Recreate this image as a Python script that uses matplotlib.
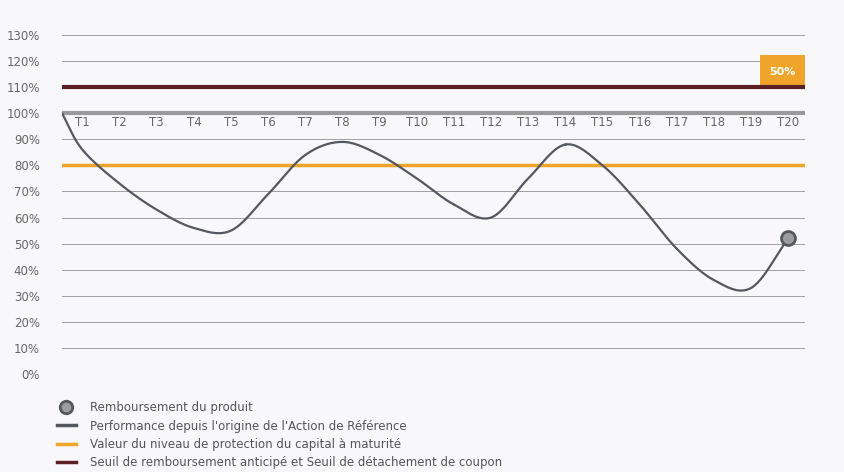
import numpy as np
import matplotlib.pyplot as plt
from matplotlib.lines import Line2D

# données
periodes = ["T%d" % i for i in range(1, 21)]
performance = [86, 73, 63, 56, 55, 69, 84, 89, 84, 75, 65, 60, 75, 88, 80, 65, 48, 36, 33, 52]
depart = 100
niveau_protection = 80
seuil_remboursement = 110
coupon_label = "50%"
yticks = list(range(0, 131, 10))

BG = "#f8f8fa"
GRIS = "#55585f"
ORANGE = "#f0a52a"
BORDEAUX = "#5b1f24"


def catmull_rom(x, y, n=30):
    # courbe lissée passant par les points lus
    x = np.asarray(x, float); y = np.asarray(y, float)
    px = np.concatenate([[2 * x[0] - x[1]], x, [2 * x[-1] - x[-2]]])
    py = np.concatenate([[2 * y[0] - y[1]], y, [2 * y[-1] - y[-2]]])
    xs, ys = [], []
    t = np.linspace(0, 1, n)
    for i in range(1, len(px) - 2):
        for p, out in ((px, xs), (py, ys)):
            p0, p1, p2, p3 = p[i - 1], p[i], p[i + 1], p[i + 2]
            out.extend(0.5 * ((2 * p1) + (-p0 + p2) * t + (2 * p0 - 5 * p1 + 4 * p2 - p3) * t ** 2
                              + (-p0 + 3 * p1 - 3 * p2 + p3) * t ** 3))
    return np.array(xs), np.array(ys)


fig = plt.figure(figsize=(8.44, 4.72), dpi=100, facecolor=BG)
ax = fig.add_axes([62 / 844, 1 - 374 / 472, (805 - 62) / 844, (374 - 35) / 472])
ax.set_facecolor(BG)

n = len(periodes)
xpos = np.arange(1, n + 1) - 0.45
ax.set_xlim(0, n)
ax.set_ylim(0, 130)

for v in yticks:
    ax.axhline(v, color="#a0a0a0", lw=0.7, zorder=1)
ax.axhline(100, color="#9a9a9a", lw=3, zorder=2)
ax.axhline(niveau_protection, color=ORANGE, lw=2.5, zorder=3)
ax.axhline(seuil_remboursement, color=BORDEAUX, lw=3, zorder=3)

# boîte coupon
ax.bar(n - 0.6, 12.5, width=1.2, bottom=seuil_remboursement, color=ORANGE, zorder=2)
ax.text(n - 0.6, 116, coupon_label, color="white", fontsize=8, fontweight="bold",
        ha="center", va="center", zorder=4)

cx, cy = catmull_rom(np.concatenate([[0], xpos]), [depart] + performance)
ax.plot(cx, cy, color=GRIS, lw=1.6, zorder=5)
ax.plot(xpos[-1], performance[-1], "o", ms=10, mfc="#9a9ca0", mec=GRIS, mew=2, zorder=6)

for x, lab in zip(xpos, periodes):
    ax.text(x, 96.5, lab, color="#666666", fontsize=8.5, ha="center", va="center", zorder=4)

ax.set_xticks([])
ax.set_yticks(yticks)
ax.set_yticklabels(["%d%%" % v for v in yticks], color="#666666", fontsize=8.5)
ax.tick_params(axis="y", length=0, pad=16)
for s in ax.spines.values():
    s.set_visible(False)

handles = [
    Line2D([], [], ls="", marker="o", ms=9, mfc="#9a9ca0", mec=GRIS, mew=2),
    Line2D([], [], color=GRIS, lw=2.5),
    Line2D([], [], color=ORANGE, lw=2.5),
    Line2D([], [], color=BORDEAUX, lw=2.5),
]
labels = [
    "Remboursement du produit",
    "Performance depuis l'origine de l'Action de Référence",
    "Valeur du niveau de protection du capital à maturité",
    "Seuil de remboursement anticipé et Seuil de détachement de coupon",
]
fig.legend(handles, labels, loc="upper left", bbox_to_anchor=(0.062, 0.16), frameon=False,
           fontsize=8.5, handlelength=1.6, labelspacing=0.45, labelcolor="#555555",
           borderaxespad=0, handletextpad=1.2)

fig.savefig("out.png", dpi=100, facecolor=BG)
